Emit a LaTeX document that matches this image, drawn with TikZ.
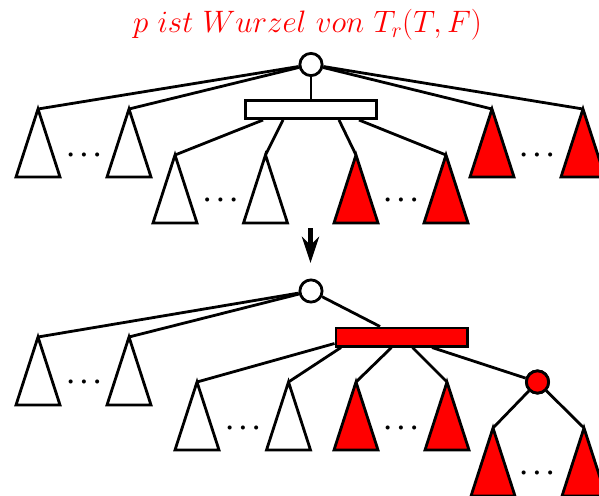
\RequirePackage{fix-cm}
\documentclass[tikz,border=0pt]{standalone}
\usetikzlibrary{arrows.meta,calc}
\newcommand\mytri[2]{\draw[tri,fill=#2] (#1) -- ++(-22,68) -- ++(44,0) -- cycle;}
\begin{document}
\begin{tikzpicture}[x=1pt,y=-1pt,line width=2.8pt,
  knot/.style={circle,draw,minimum size=22.2pt,inner sep=0pt},
  bar/.style={rectangle,draw,minimum width=131.2pt,minimum height=18.2pt,inner sep=0pt},
  tri/.style={draw,line join=miter},
  dotsnode/.style={anchor=base,inner sep=0pt,font=\fontsize{26}{26}\selectfont\boldmath},
  conn/.style={draw}]
\useasboundingbox (0,0) rectangle (599,495);
\clip (0,0) rectangle (599,495);
% title
\node[red,anchor=base,inner sep=0pt,font=\fontsize{31}{31}\selectfont] (title) at (307.5,33) {$p\ ist\ Wurzel\ von\ T_r(T,F)$};
% ---------------- upper tree
\node[knot,fill=white] (c1) at (311,64.5) {};
\node[bar,fill=white] (r1) at (311,109.5) {};
\coordinate (u1) at (38,109);
\coordinate (u2) at (129,109);
\coordinate (u3) at (492,109);
\coordinate (u4) at (583,109);
\coordinate (v1) at (175,155);
\coordinate (v2) at (265.5,155);
\coordinate (v3) at (356,155);
\coordinate (v4) at (446,155);
\draw[conn] (c1) -- (u1);
\draw[conn] (c1) -- (u2);
\draw[conn] (c1) -- (u3);
\draw[conn] (c1) -- (u4);
\draw[conn] (c1) -- (r1.north);
\draw[conn] ([xshift=-48pt]r1.south) -- (v1);
\draw[conn] ([xshift=-28pt]r1.south) -- (v2);
\draw[conn] ([xshift=28pt]r1.south) -- (v3);
\draw[conn] ([xshift=48pt]r1.south) -- (v4);
\mytri{u1}{white}
\mytri{u2}{white}
\mytri{u3}{red}
\mytri{u4}{red}
\mytri{v1}{white}
\mytri{v2}{white}
\mytri{v3}{red}
\mytri{v4}{red}
\node[dotsnode] (d1) at (84,161.5) {$\cdots$};
\node[dotsnode] (d2) at (537,161.5) {$\cdots$};
\node[dotsnode] (d3) at (220.5,206.5) {$\cdots$};
\node[dotsnode] (d4) at (401,206.5) {$\cdots$};
% arrow
\coordinate (a1) at (310.5,228);
\coordinate (a2) at (310.5,263);
\draw[line width=5pt,-{Stealth[length=26pt,width=17pt,inset=8pt]}] (a1) -- (a2);
% ---------------- lower tree
\node[knot,fill=white] (c2) at (311,291) {};
\node[bar,fill=red] (r2) at (401.5,337) {};
\node[knot,fill=red] (c3) at (537.5,382) {};
\coordinate (w1) at (38,337);
\coordinate (w2) at (129,337);
\coordinate (x1) at (197,382);
\coordinate (x2) at (288.5,382);
\coordinate (x3) at (356,382);
\coordinate (x4) at (447,382);
\coordinate (y1) at (493,428);
\coordinate (y2) at (584,428);
\draw[conn] (c2) -- (w1);
\draw[conn] (c2) -- (w2);
\draw[conn] (c2) -- ([xshift=-21.5pt]r2.north);
\draw[conn] ([yshift=4pt]r2.south west) -- (x1);
\draw[conn] ([xshift=-60.5pt]r2.south) -- (x2);
\draw[conn] ([xshift=-10pt]r2.south) -- (x3);
\draw[conn] ([xshift=11pt]r2.south) -- (x4);
\draw[conn] ([xshift=30.5pt]r2.south) -- (c3);
\draw[conn] (c3) -- (y1);
\draw[conn] (c3) -- (y2);
\node[knot,fill=red] at (c3) {};
\mytri{w1}{white}
\mytri{w2}{white}
\mytri{x1}{white}
\mytri{x2}{white}
\mytri{x3}{red}
\mytri{x4}{red}
\mytri{y1}{red}
\mytri{y2}{red}
\node[dotsnode] (d5) at (84,388.5) {$\cdots$};
\node[dotsnode] (d6) at (243,434.5) {$\cdots$};
\node[dotsnode] (d7) at (401,434.5) {$\cdots$};
\node[dotsnode] (d8) at (537,479.5) {$\cdots$};
\end{tikzpicture}
\end{document}
